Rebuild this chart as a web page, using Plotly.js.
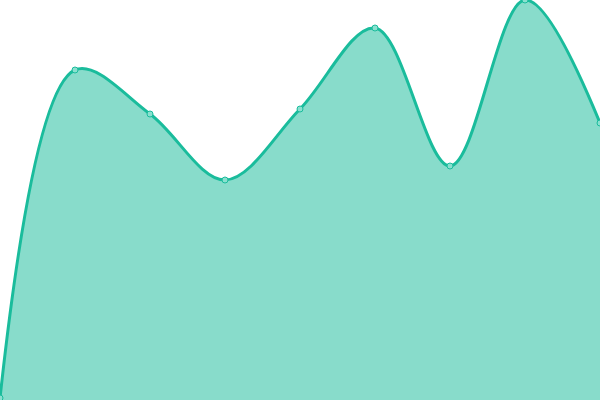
<!DOCTYPE html>
<html>
<head>
<meta charset="utf-8">
<script src="https://cdn.plot.ly/plotly-3.0.1.min.js"></script>
<style>
  html, body { margin: 0; padding: 0; background: #fff; }
  #area-plot { width: 600px; height: 400px; }
</style>
</head>
<body>
<div id="area-plot"></div>
<script>
// one value per step
var steps = [0, 1, 2, 3, 4, 5, 6, 7, 8];
var values = [2, 330, 286, 220, 291, 372, 234, 400, 277];

var area = {
  x: steps,
  y: values,
  type: 'scatter',
  mode: 'lines+markers',
  fill: 'tozeroy',
  fillcolor: 'rgba(26,188,156,0.52)',
  line: { color: '#1abc9c', width: 3, shape: 'spline', smoothing: 1 },
  marker: { size: 6, color: '#8ae0cf', line: { color: '#1abc9c', width: 1 } },
  hoverinfo: 'none'
};

var layout = {
  width: 600,
  height: 400,
  margin: { l: 0, r: 0, t: 0, b: 0 },
  showlegend: false,
  paper_bgcolor: '#fff',
  plot_bgcolor: '#fff',
  xaxis: { range: [0, 8], visible: false, fixedrange: true },
  yaxis: { range: [0, 400], visible: false, fixedrange: true }
};

document.addEventListener("DOMContentLoaded", function(event) {
  Plotly.newPlot('area-plot', [area], layout, { displayModeBar: false, staticPlot: true });
});
</script>
</body>
</html>
